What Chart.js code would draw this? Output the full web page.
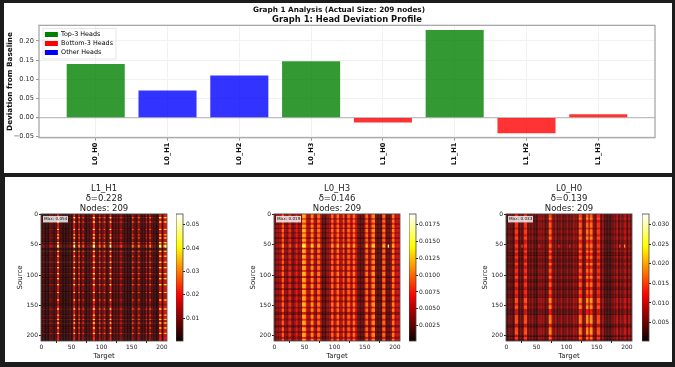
<!DOCTYPE html>
<html>
<head>
<meta charset="utf-8">
<title>Graph 1 Analysis</title>
<script src="https://cdn.jsdelivr.net/npm/chart.js@4/dist/chart.umd.min.js"></script>
<style>
  html, body { margin: 0; padding: 0; background: #1c1c1c; width: 675px; height: 367px; overflow: hidden; }
  .panel { position: absolute; background: #fff; }
  canvas { position: absolute; filter: blur(0.35px); }
</style>
</head>
<body>
<div class="panel" style="left:4px;top:3px;width:668px;height:170px"></div>
<div class="panel" style="left:5px;top:177px;width:667px;height:185px"></div>
<canvas id="bars" width="675" height="175" style="left:0;top:0"></canvas>
<canvas id="heat1" width="198" height="185" style="left:5px;top:177px"></canvas>
<canvas id="cbar1" width="37" height="185" style="left:176px;top:177px"></canvas>
<canvas id="heat2" width="198" height="185" style="left:238px;top:177px"></canvas>
<canvas id="cbar2" width="37" height="185" style="left:409px;top:177px"></canvas>
<canvas id="heat3" width="198" height="185" style="left:470px;top:177px"></canvas>
<canvas id="cbar3" width="37" height="185" style="left:642px;top:177px"></canvas>

<script>
const headNames = ["L0_H0", "L0_H1", "L0_H2", "L0_H3", "L1_H0", "L1_H1", "L1_H2", "L1_H3"];
const headDeviation = [0.139, 0.07, 0.109, 0.146, -0.012, 0.228, -0.04, 0.008];
const headGroup = ["top", "other", "other", "top", "bottom", "top", "bottom", "bottom"];
const deviationTicks = [-0.05, 0, 0.05, 0.1, 0.15, 0.2];

// The heatmaps are too dense to read cell by cell, so each one is read off the
// picture as column stripes (start column, level) and row bands (start row, multiplier).
const l1h1ColStart = [0,6,14,16,18,26,27,30,34,45,53,54,57,62,65,69,72,76,86,90,96,99,104,107,114,117,121,132,135,143,151,154,161,164,174,176,180,183,190,196,200,203,205];
const l1h1ColLevel = [.007,.004,.008,.014,.006,.008,.034,.008,.004,.006,.004,.036,.006,.022,.006,.02,.004,.007,.036,.006,.022,.008,.022,.006,.036,.006,.008,.018,.006,.004,.022,.007,.022,.006,.018,.006,.022,.007,.004,.034,.007,.02,.034];
const l1h1RowStart = [0,5,7,12,14,24,26,33,35,38,40,46,48,50,55,60,62,68,70,78,80,87,89,97,99,105,107,115,117,128,130,140,142,148,150,155,157,165,167,172,174,178,180,186,188,195,197,203];
const l1h1RowLevel = [.6,1.25,.55,1.25,.55,1.25,.55,1.2,.55,1.25,.5,1.2,.5,1.35,.3,1.2,.55,1.2,.55,1.2,.5,1.2,.55,1.2,.55,1.25,.5,1.2,.55,1.2,.45,1.2,.55,.35,.6,1.25,.55,1.2,.55,1.25,.5,1.2,.5,1.2,.55,1.25,.5,.6];
const l1h1SpotCols = [];
const l1h1SpotVals = [];

const l0h3ColStart = [0,5,13,17,24,26,28,36,39,47,53,57,61,66,72,77,80,88,95,99,104,108,112,114,117,122,126,131,135,139,149,152,156,162,168,180,185,189,192,196,200,205];
const l0h3ColLevel = [.0035,.0045,.0098,.004,.0055,.009,.0035,.0075,.0042,.0125,.006,.0045,.011,.0045,.0102,.0045,.0025,.0045,.0102,.005,.0105,.0055,.004,.0098,.0045,.0102,.0055,.0105,.0055,.0025,.004,.0105,.0045,.011,.0025,.0102,.003,.0025,.004,.011,.0055,.006];
const l0h3RowStart = [0,7,9,14,17,22,24,30,32,38,40,45,48,50,55,58,64,67,73,76,82,85,92,95,102,105,112,115,122,125,132,135,142,145,152,155,161,165,172,175,182,186,192,195,202,205];
const l0h3RowLevel = [.95,.55,.95,.65,.95,.55,1,.65,.95,.52,.95,.6,1,1.15,.52,.95,.55,.95,.6,.95,.52,.95,.6,1,.55,.95,.6,.95,.52,.95,.6,.95,.55,1,.6,.95,.52,.95,.6,.95,.52,.95,.6,.95,.55,.95];
const l0h3SpotCols = [189, 48];
const l0h3SpotVals = [.0165, .0165];

const l0h0ColStart = [0,5,9,15,20,30,35,44,46,54,57,61,63,71,76,82,84,90,93,100,103,112,115,121,126,133,137,139,144,151,156,160,163,176,183,186,190,192,196,199,203,206];
const l0h0ColLevel = [.0032,.005,.0032,.013,.004,.013,.0045,.006,.0032,.007,.0055,.0065,.004,.015,.005,.007,.004,.006,.004,.006,.0045,.007,.005,.015,.005,.016,.006,.016,.005,.013,.0045,.0065,.003,.005,.0075,.004,.0075,.0045,.009,.004,.007,.005];
const l0h0RowStart = [0,6,9,14,22,25,33,37,42,48,50,55,60,63,68,74,80,84,90,96,102,106,112,120,125,132,138,146,150,156,162,166,175,180,186,192,198,202,206];
const l0h0RowLevel = [1,1.2,.8,1.05,.75,1.1,.85,1.15,.8,1,1.1,.8,1.15,.75,1.05,.72,1.15,.75,1.05,.8,1.15,.75,1.05,.72,1,.8,1.2,.9,1.2,.75,.75,1.15,1.2,.72,1.15,1.2,.72,1.1,.72];
const l0h0SpotCols = [26, 30, 54, 87, 105, 188, 196];
const l0h0SpotVals = [.014, .014, .012, .012, .012, .014, .02];

const nodeCount = 209;
const nodeTicks = [0, 50, 100, 150, 200];
const cbar1Range = [0.0002, 0.0546];
const cbar1Ticks = [0.01, 0.02, 0.03, 0.04, 0.05];
const cbar2Range = [0.0002, 0.0191];
const cbar2Ticks = [0.0025, 0.005, 0.0075, 0.01, 0.0125, 0.015, 0.0175];
const cbar3Range = [0.0003, 0.0327];
const cbar3Ticks = [0.005, 0.01, 0.015, 0.02, 0.025, 0.03];

const groupColor = { top: "rgba(0,128,0,0.8)", bottom: "rgba(255,0,0,0.8)", other: "rgba(0,0,255,0.8)" };
const fontFamily = "'DejaVu Sans', sans-serif";
Chart.defaults.animation = false;
Chart.defaults.responsive = false;
Chart.defaults.font.family = fontFamily;

function frame(color, width) {
  return {
    id: "frame",
    afterDraw(chart) {
      const a = chart.chartArea, c = chart.ctx;
      c.save();
      c.strokeStyle = color;
      c.lineWidth = width;
      c.strokeRect(a.left, a.top, a.right - a.left, a.bottom - a.top);
      c.restore();
    }
  };
}

// matplotlib "hot"
function hot(t) {
  t = Math.max(0, Math.min(1, t));
  const r = Math.min(1, 0.0416 + t / 0.365 * 0.9584);
  const g = Math.max(0, Math.min(1, (t - 0.365) / 0.381));
  const b = Math.max(0, Math.min(1, (t - 0.746) / 0.254));
  return `rgb(${Math.round(r * 255)},${Math.round(g * 255)},${Math.round(b * 255)})`;
}

new Chart(document.getElementById("bars"), {
  type: "bar",
  data: {
    datasets: [{
      data: headDeviation.map((v, i) => ({ x: i, y: v })),
      backgroundColor: headGroup.map(g => groupColor[g]),
      barThickness: 57.4,
      borderWidth: 0
    }]
  },
  options: {
    layout: { padding: { right: 20 } },
    plugins: {
      title: { display: true, text: "Graph 1 Analysis (Actual Size: 209 nodes)", color: "#111", font: { size: 7.3, weight: "bold" }, padding: { top: 5.6, bottom: 0 } },
      subtitle: { display: true, fullSize: false, text: "Graph 1: Head Deviation Profile", color: "#111", font: { size: 8.4, weight: "bold", lineHeight: 1.2 }, padding: { top: 0, bottom: 0.9 } },
      tooltip: { enabled: false },
      legend: {
        position: "chartArea",
        align: "start",
        labels: {
          color: "#333",
          font: { size: 6.4 },
          boxWidth: 13,
          boxHeight: 5,
          padding: 2.6,
          generateLabels: () => [
            { text: "Top-3 Heads", fillStyle: "green", lineWidth: 0, strokeStyle: "green" },
            { text: "Bottom-3 Heads", fillStyle: "red", lineWidth: 0, strokeStyle: "red" },
            { text: "Other Heads", fillStyle: "blue", lineWidth: 0, strokeStyle: "blue" }
          ]
        }
      }
    },
    scales: {
      x: {
        type: "linear",
        offset: false,
        min: -0.79,
        max: 7.79,
        afterBuildTicks: axis => { axis.ticks = headNames.map((_, i) => ({ value: i })); },
        afterFit: axis => { axis.height = 175 - 137.7; },
        ticks: { autoSkip: false, minRotation: 90, maxRotation: 90, color: "#111", font: { size: 6.6, weight: "bold" }, padding: 2, callback: v => headNames[v] },
        grid: { offset: false, color: "#f1f1f1", tickColor: "#999", tickLength: 3 },
        border: { display: false }
      },
      y: {
        min: -0.0524,
        max: 0.2408,
        afterBuildTicks: axis => { axis.ticks = deviationTicks.map(v => ({ value: v })); },
        afterFit: axis => { axis.width = 39; },
        title: { display: true, text: "Deviation from Baseline", color: "#111", font: { size: 7.3, weight: "bold" }, padding: { top: 5.5, bottom: 0 } },
        ticks: { color: "#333", font: { size: 6.6 }, padding: 2, callback: v => v.toFixed(2).replace("-", "\u2212") },
        grid: { color: c => c.tick && c.tick.value === 0 ? "#bdbdbd" : "#f1f1f1", lineWidth: c => c.tick && c.tick.value === 0 ? 1.3 : 1, tickColor: "#999", tickLength: 3 },
        border: { display: false }
      }
    }
  },
  plugins: [frame("#a8a8a8", 1.3), {
    id: "placeBoxes",
    afterLayout(chart) {
      // legend sits inside the plot, top left; main title is centred on the figure
      const l = chart.legend;
      l.left = 42.3; l.right = 120; l.top = 28.8; l.bottom = 80;
      chart.titleBlock.left = 23; chart.titleBlock.right = 655;
    },
    afterDatasetsDraw(chart) {
      const c = chart.ctx;
      c.save();
      c.strokeStyle = "#e2e2e2";
      c.lineWidth = 0.8;
      c.strokeRect(43, 28.5, 73, 30.5);
      c.restore();
    }
  }]
});

function expand(starts, levels, n) {
  const out = [];
  let k = 0;
  for (let i = 0; i < n; i++) {
    while (k + 1 < starts.length && starts[k + 1] <= i) k++;
    out.push(levels[k]);
  }
  return out;
}

function heatmap(id, titleLines, maxLabel, colStart, colLevel, rowStart, rowLevel, spotCols, spotVals, range) {
  const cols = expand(colStart, colLevel, nodeCount);
  const labels = cols.map((_, i) => i);
  const datasets = rowStart.map((start, r) => {
    const end = r + 1 < rowStart.length ? rowStart[r + 1] : nodeCount;
    const colors = cols.map((c, i) => {
      let v = c * rowLevel[r];
      const s = spotCols.findIndex(sc => i >= sc && i < sc + 2);
      if (start === 50 && s >= 0) v = spotVals[s];
      return hot((v - range[0]) / (range[1] - range[0]));
    });
    return { data: cols.map(() => [start - 0.5, end - 0.5]), backgroundColor: colors, borderWidth: 0, inflateAmount: 0.15, barPercentage: 1, categoryPercentage: 1, grouped: false };
  });
  new Chart(document.getElementById(id), {
    type: "bar",
    data: { labels, datasets },
    options: {
      layout: { padding: { right: 36 } },
      plugins: {
        legend: { display: false },
        tooltip: { enabled: false },
        title: { display: true, fullSize: false, text: titleLines, color: "#222", font: { size: 8.5, weight: "normal", lineHeight: 1.15 }, padding: { top: 7, bottom: 0.6 } }
      },
      scales: {
        x: {
          afterFit: axis => { axis.height = 21; },
          title: { display: true, text: "Target", color: "#222", font: { size: 7 }, padding: { top: 0, bottom: 1.5 } },
          ticks: { autoSkip: false, maxRotation: 0, color: "#222", font: { size: 6 }, padding: 1, callback: (v, i) => nodeTicks.includes(i) ? String(i) : null },
          grid: { drawOnChartArea: false, color: "#222", tickLength: 2 },
          border: { display: false }
        },
        y: {
          reverse: true,
          min: -0.5,
          max: 208.5,
          afterBuildTicks: axis => { axis.ticks = nodeTicks.map(v => ({ value: v })); },
          afterFit: axis => { axis.width = 36; },
          title: { display: true, text: "Source", color: "#222", font: { size: 7 }, padding: { top: 11, bottom: 0 } },
          ticks: { color: "#222", font: { size: 6 }, padding: 1 },
          grid: { drawOnChartArea: false, color: "#222", tickLength: 2 },
          border: { display: false }
        }
      }
    },
    plugins: [frame("#444", 0.8), {
      id: "maxBox",
      afterDraw(chart) {
        const a = chart.chartArea, c = chart.ctx;
        c.save();
        c.fillStyle = "rgba(255,255,255,0.8)";
        c.fillRect(a.left + 2, a.top + 2, 25, 6.5);
        c.fillStyle = "#111";
        c.font = "4.2px " + fontFamily;
        c.textBaseline = "middle";
        c.fillText(maxLabel, a.left + 3, a.top + 5.3);
        c.restore();
      }
    }]
  });
}

function colorbar(id, range, ticks, digits) {
  new Chart(document.getElementById(id), {
    type: "bar",
    data: {
      labels: ["v"],
      datasets: [{
        data: [range],
        barPercentage: 1,
        categoryPercentage: 1,
        borderWidth: 0,
        backgroundColor: c => {
          const a = c.chart.chartArea;
          if (!a) return "#000";
          const g = c.chart.ctx.createLinearGradient(0, a.bottom, 0, a.top);
          for (let i = 0; i <= 32; i++) g.addColorStop(i / 32, hot(i / 32));
          return g;
        }
      }]
    },
    options: {
      layout: { padding: { top: 37, bottom: 21 } },
      plugins: { legend: { display: false }, tooltip: { enabled: false } },
      scales: {
        x: { display: false },
        y: {
          position: "right",
          min: range[0],
          max: range[1],
          afterBuildTicks: axis => { axis.ticks = ticks.map(v => ({ value: v })); },
          afterFit: axis => { axis.width = 30; },
          ticks: { color: "#222", font: { size: 6 }, padding: 1, callback: v => v.toFixed(digits) },
          grid: { drawOnChartArea: false, color: "#222", tickLength: 2 },
          border: { display: false }
        }
      }
    },
    plugins: [frame("#444", 0.8)]
  });
}

heatmap("heat1", ["L1_H1", "\u03b4=0.228", "Nodes: 209"], "Max: 0.054", l1h1ColStart, l1h1ColLevel, l1h1RowStart, l1h1RowLevel, l1h1SpotCols, l1h1SpotVals, cbar1Range);
heatmap("heat2", ["L0_H3", "\u03b4=0.146", "Nodes: 209"], "Max: 0.019", l0h3ColStart, l0h3ColLevel, l0h3RowStart, l0h3RowLevel, l0h3SpotCols, l0h3SpotVals, cbar2Range);
heatmap("heat3", ["L0_H0", "\u03b4=0.139", "Nodes: 209"], "Max: 0.033", l0h0ColStart, l0h0ColLevel, l0h0RowStart, l0h0RowLevel, l0h0SpotCols, l0h0SpotVals, cbar3Range);
colorbar("cbar1", cbar1Range, cbar1Ticks, 2);
colorbar("cbar2", cbar2Range, cbar2Ticks, 4);
colorbar("cbar3", cbar3Range, cbar3Ticks, 3);
</script>
</body>
</html>
